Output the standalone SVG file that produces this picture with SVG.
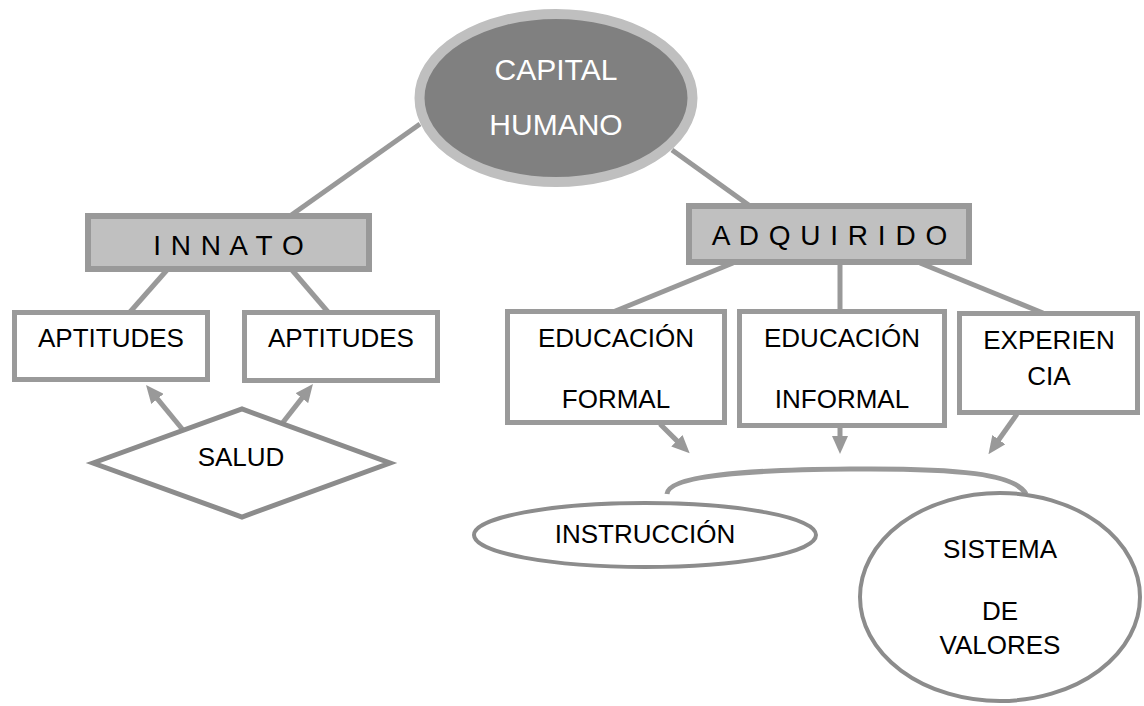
<svg xmlns="http://www.w3.org/2000/svg" width="1144" height="706" viewBox="0 0 1144 706">
<style>
text{font-family:"Liberation Sans",Arial,sans-serif;font-size:26px;fill:#000;text-anchor:middle}
.box{fill:#fff;stroke:#9a9a9a;stroke-width:5}
.hbox{fill:#c0c0c0;stroke:#999;stroke-width:6}
.ell{fill:#fff;stroke:#8c8c8c;stroke-width:4}
.con{fill:none;stroke:#999;stroke-width:5}
.arr{fill:none;stroke:#999;stroke-width:5;marker-end:url(#ah)}
.sp{font-size:28px;letter-spacing:1px}
</style>
<defs>
<marker id="ah" viewBox="0 0 18 16" refX="2" refY="8" markerWidth="18" markerHeight="16" orient="auto" markerUnits="userSpaceOnUse">
<path d="M0,0 L18,8 L0,16 z" fill="#999"/>
</marker>
</defs>
<rect width="1144" height="706" fill="#fff"/>
<g id="connectors">
<line class="con" x1="420" y1="124" x2="290" y2="216"/>
<line class="con" x1="672" y1="150" x2="750" y2="206"/>
<line class="con" x1="167" y1="270" x2="130" y2="312"/>
<line class="con" x1="292" y1="270" x2="328" y2="312"/>
<line class="con" x1="733" y1="263" x2="613" y2="312"/>
<line class="con" x1="840" y1="263" x2="840" y2="312"/>
<line class="con" x1="920" y1="263" x2="1043" y2="313"/>
<line class="arr" x1="183" y1="430" x2="156.2" y2="397.4"/>
<line class="arr" x1="277" y1="430" x2="303.1" y2="396.6"/>
<line class="arr" x1="660" y1="424" x2="678.3" y2="442.1"/>
<line class="arr" x1="840" y1="427" x2="840" y2="438"/>
<line class="arr" x1="1017" y1="414" x2="997.7" y2="441.3"/>
<path class="con" d="M667,494 C668,476 740,470 850,469 C960,468 1015,474 1026,494"/>
</g>
<g id="capital">
<ellipse cx="556" cy="98" rx="136.5" ry="84" fill="#808080" stroke="#bfbfbf" stroke-width="10"/>
<text x="556" y="80" style="font-size:30px;fill:#fff">CAPITAL</text>
<text x="556" y="135" style="font-size:30px;fill:#fff">HUMANO</text>
</g>
<g id="innato">
<rect class="hbox" x="88" y="216" width="281" height="53"/>
<text class="sp" x="229" y="255">I N N A T O</text>
</g>
<g id="adquirido">
<rect class="hbox" x="689" y="206" width="280" height="56"/>
<text class="sp" x="830" y="245">A D Q U I R I D O</text>
</g>
<g id="aptitudes1">
<rect class="box" x="14.5" y="312.5" width="193" height="67"/>
<text x="111" y="347">APTITUDES</text>
</g>
<g id="aptitudes2">
<rect class="box" x="244.5" y="312.5" width="193" height="68"/>
<text x="341" y="347">APTITUDES</text>
</g>
<g id="salud">
<polygon points="93,463 242,409 390,463 242,517" fill="#fff" stroke="#8c8c8c" stroke-width="5"/>
<text x="241" y="466">SALUD</text>
</g>
<g id="edformal">
<rect class="box" x="507.5" y="311.5" width="217" height="111"/>
<text x="616" y="347">EDUCACIÓN</text>
<text x="616" y="408">FORMAL</text>
</g>
<g id="edinformal">
<rect class="box" x="739.5" y="311.5" width="205" height="114"/>
<text x="842" y="347">EDUCACIÓN</text>
<text x="842" y="408">INFORMAL</text>
</g>
<g id="experiencia">
<rect class="box" x="959.5" y="313.5" width="178" height="99"/>
<text x="1049" y="349">EXPERIEN</text>
<text x="1049" y="385">CIA</text>
</g>
<g id="instruccion">
<ellipse class="ell" cx="645" cy="535" rx="171" ry="32"/>
<text x="645" y="543">INSTRUCCIÓN</text>
</g>
<g id="sistema">
<ellipse class="ell" cx="1000" cy="597" rx="140" ry="104"/>
<text x="1000" y="558">SISTEMA</text>
<text x="1000" y="620">DE</text>
<text x="1000" y="654">VALORES</text>
</g>
</svg>
